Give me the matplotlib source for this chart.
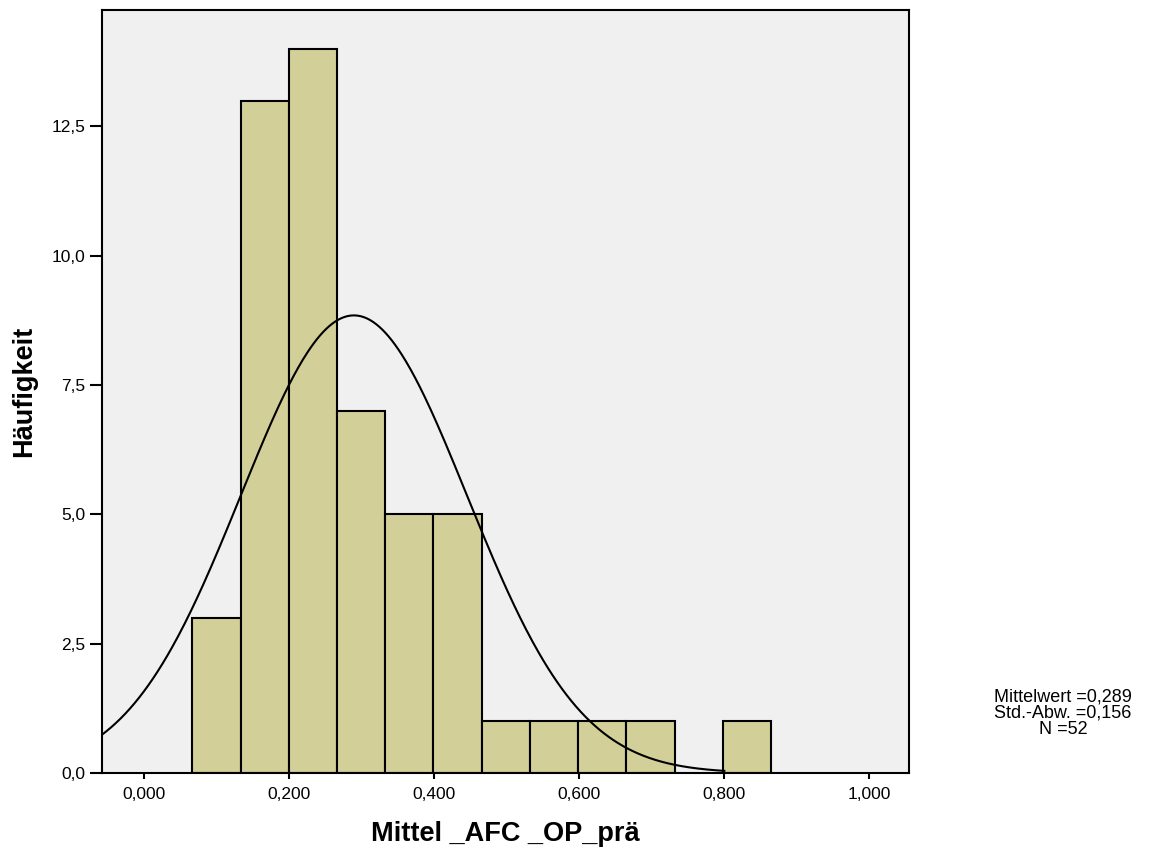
import numpy as np
import matplotlib
matplotlib.use("Agg")
import matplotlib.pyplot as plt

plt.rcParams['font.family'] = ['Liberation Sans', 'DejaVu Sans']

# Data
bin_edges = [0.0662, 0.1327, 0.1992, 0.2658, 0.3323, 0.3988, 0.4654,
             0.5319, 0.5984, 0.6650, 0.7315, 0.7980, 0.8645]
counts = [3, 13, 14, 7, 5, 5, 1, 1, 1, 1, 0, 1]
mean_val = 0.289
std_val = 0.156
n_val = 52
x_ticks = [0.0, 0.2, 0.4, 0.6, 0.8, 1.0]
x_tick_labels = ["0,000", "0,200", "0,400", "0,600", "0,800", "1,000"]
y_ticks = [0.0, 2.5, 5.0, 7.5, 10.0, 12.5]
y_tick_labels = ["0,0", "2,5", "5,0", "7,5", "10,0", "12,5"]

fig = plt.figure(figsize=(11.51, 8.55), dpi=100)
ax = fig.add_axes([0.0884, 0.0959, 0.7014, 0.8924])
ax.set_facecolor('#F0F0F0')

widths = np.diff(bin_edges)
for left, w, c in zip(bin_edges[:-1], widths, counts):
    if c > 0:
        ax.bar(left, c, width=w, align='edge', color='#D3CF98',
               edgecolor='black', linewidth=1.5, zorder=2)

# fitted normal curve
bw = widths.mean()
xs = np.linspace(-0.0588, 0.80, 400)
ys = n_val * bw / (std_val * np.sqrt(2 * np.pi)) * np.exp(-0.5 * ((xs - mean_val) / std_val) ** 2)
ax.plot(xs, ys, color='black', linewidth=1.5, zorder=3)

ax.set_xlim(-0.0588, 1.0548)
ax.set_ylim(0, 14.75)
ax.set_xticks(x_ticks)
ax.set_xticklabels(x_tick_labels, fontsize=12.5)
ax.set_yticks(y_ticks)
ax.set_yticklabels(y_tick_labels, fontsize=12.5)
ax.tick_params(axis='x', length=4, width=1.5, pad=6)
ax.tick_params(axis='y', length=9, width=1.5, pad=3)
for s in ax.spines.values():
    s.set_linewidth(1.5)

ax.set_xlabel("Mittel _AFC _OP_prä", fontsize=19.5, fontweight='bold', labelpad=14)
ax.set_ylabel("Häufigkeit", fontsize=19.5, fontweight='bold', labelpad=10)

fig.text(1063 / 1151, 1 - 713 / 855,
         "Mittelwert =0,289\nStd.-Abw. =0,156\nN =52",
         ha='center', va='center', fontsize=13, linespacing=0.95)

fig.savefig("out.png", dpi=100)
